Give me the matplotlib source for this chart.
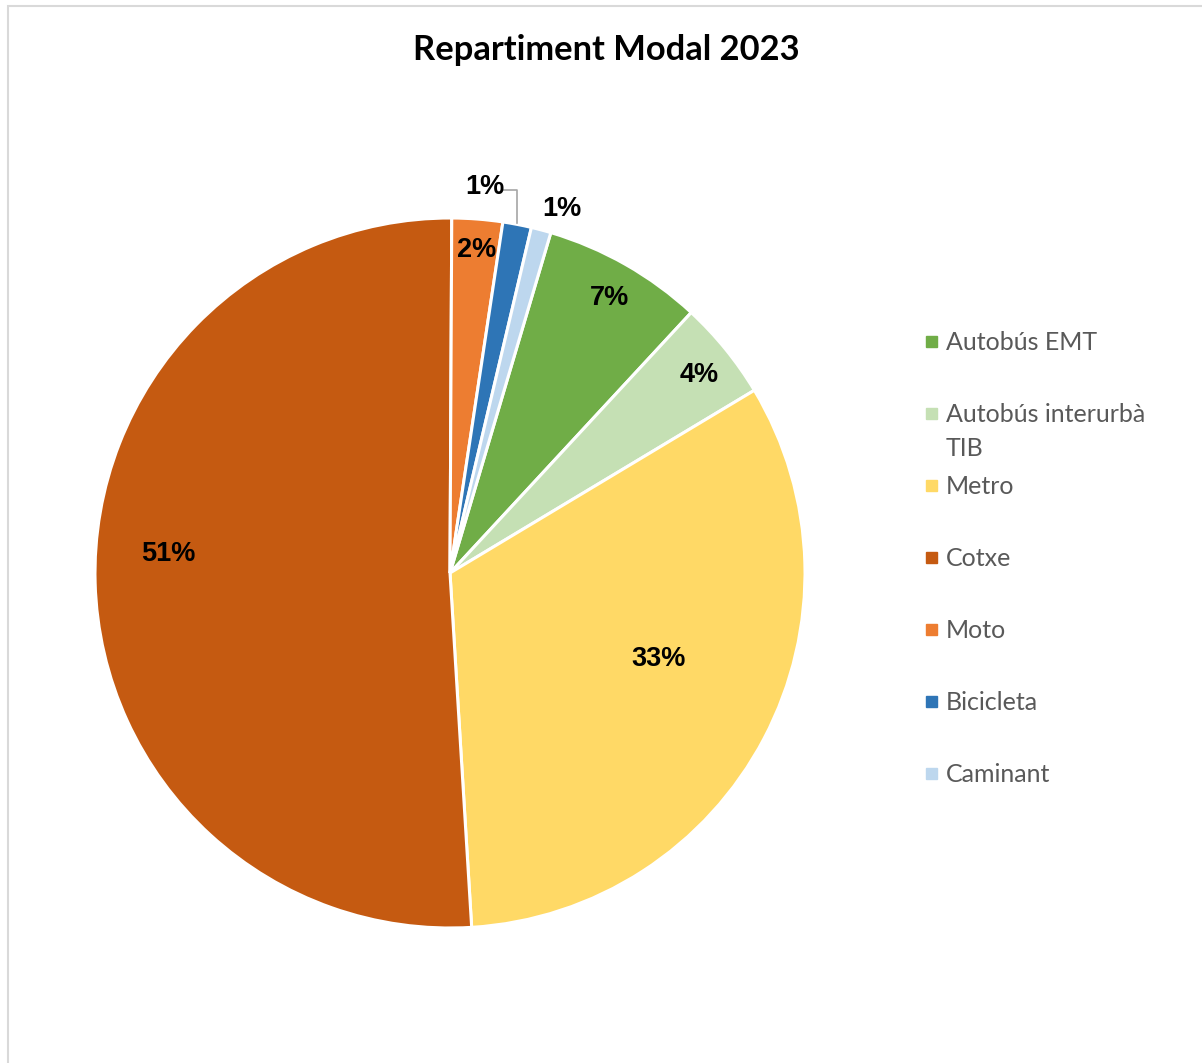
import matplotlib.pyplot as plt
from matplotlib.patches import Rectangle
from matplotlib.transforms import offset_copy
import numpy as np

# Data
modes = ['Autobús EMT', 'Autobús interurbà\nTIB', 'Metro', 'Cotxe', 'Moto', 'Bicicleta', 'Caminant']
shares = [7.3, 4.5, 32.6, 51.0, 2.3, 1.3, 0.9]
colors = ['#70AD47', '#C5E0B4', '#FFD966', '#C55A11', '#ED7D31', '#2E75B6', '#BDD7EE']

# label placement (radius, angle nudge in degrees, clockwise)
label_r = [0.90, 0.90, 0.63, 0.80, 0.92, 1.10, 1.08]
label_nudge = [0, 0, -6, 6, 0, -6, 2]

W, H = 1202, 1063
fig = plt.figure(figsize=(W / 100, H / 100), dpi=100)

# light chart border (right/bottom edges cropped away)
fig.add_artist(Rectangle((8 / W, -0.1), 1.2, 1 - 6 / H + 0.1, transform=fig.transFigure,
                         fill=False, edgecolor='#d9d9d9', linewidth=1.5))

cx, cy, r = 450, 573, 355
ax = fig.add_axes([(cx - r) / W, (H - cy - r) / H, 2 * r / W, 2 * r / H])
start = 90 - 16.5
wedges, _ = ax.pie(shares, colors=colors, startangle=start, counterclock=False,
                   wedgeprops=dict(edgecolor='white', linewidth=2.2))
ax.set_xlim(-1, 1)
ax.set_ylim(-1, 1)
ax.axis('off')

lbl_tr = offset_copy(ax.transData, fig=fig, x=1, y=-3, units='dots')
for w, val, lr, dn in zip(wedges, shares, label_r, label_nudge):
    mid = np.deg2rad((w.theta1 + w.theta2) / 2 - dn)
    ax.text(lr * np.cos(mid), lr * np.sin(mid), '%.0f%%' % val, ha='center', va='center',
            fontsize=19.5, fontweight='bold', family='Liberation Sans', color='black',
            clip_on=False, transform=lbl_tr)

# leader line for Bicicleta
ax.plot([0.15, 0.19, 0.19], [1.079, 1.079, 0.985], color='#a6a6a6', lw=1.2, clip_on=False)

fig.text(606 / W, 1 - 50 / H, 'Repartiment Modal 2023', ha='center', va='center',
         fontsize=24.8, fontweight='bold', family='Lato', color='black')

# legend
for i, (lab, col) in enumerate(zip(modes, colors)):
    y = 341 + 72 * i
    fig.add_artist(Rectangle((926 / W, 1 - (y + 6) / H), 11 / W, 11 / H,
                             transform=fig.transFigure, color=col))
    fig.text(946 / W, 1 - (y - 10) / H, lab, ha='left', va='top', fontsize=18,
             family='Lato', color='#595959', linespacing=1.6)

plt.savefig('out.png', dpi=100)
